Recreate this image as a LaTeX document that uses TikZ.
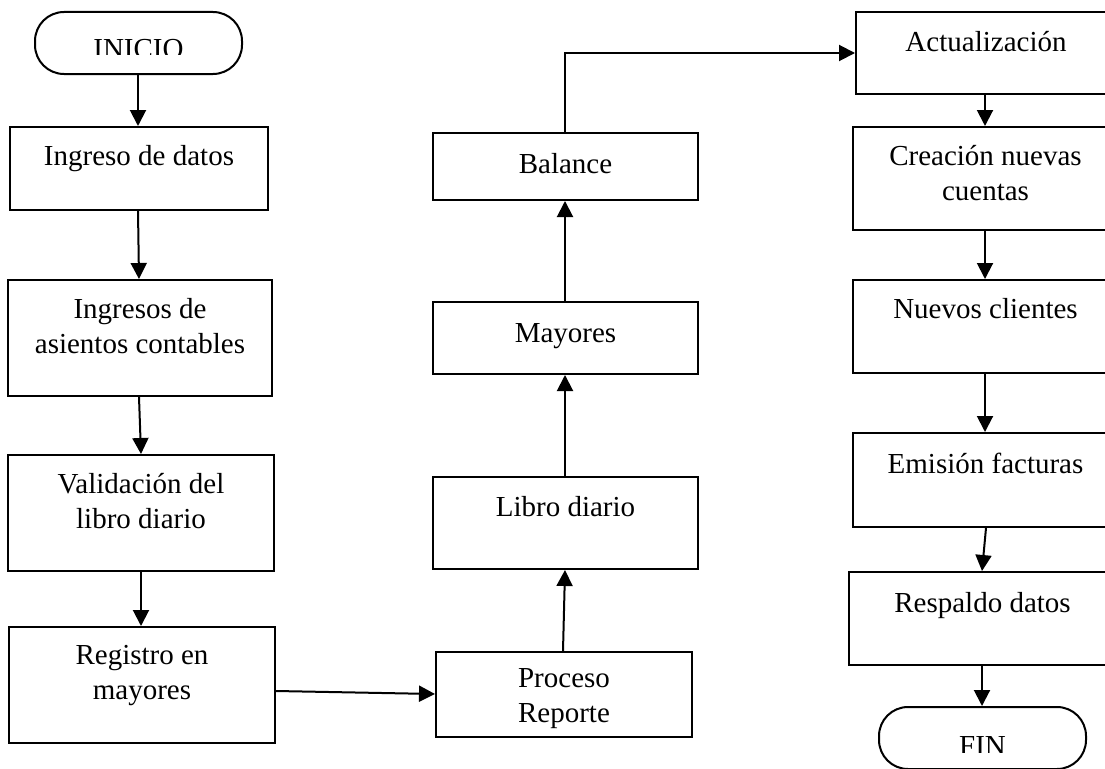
\documentclass[tikz,border=0pt]{standalone}
\usepackage{fontspec}
\setmainfont{Liberation Serif}
\usetikzlibrary{arrows.meta,calc}
\tikzset{
  box/.style={draw, line width=2pt, inner sep=0pt, rectangle},
  term/.style={draw, line width=2pt, inner sep=0pt, rectangle, rounded corners=29pt},
  txt/.style={inner sep=0pt, align=center, anchor=base, font=\fontsize{29}{35}\selectfont},
  arr/.style={line width=2pt, -{Triangle[length=16pt,width=16pt]}}
}
\begin{document}
\begin{tikzpicture}[x=1pt,y=-1pt]
\useasboundingbox (0,0) rectangle (1105,768);
\clip (0,0) rectangle (1105,768);
% boxes
\node[term, minimum width=207pt, minimum height=62pt] (ini) at (138.5,43) {};
\node[box, minimum width=258pt, minimum height=83pt] (ing) at (139,168.5) {};
\node[box, minimum width=264pt, minimum height=116pt] (asi) at (140,338) {};
\node[box, minimum width=266pt, minimum height=116pt] (val) at (141,513) {};
\node[box, minimum width=266pt, minimum height=116pt] (reg) at (142,685) {};
\node[box, minimum width=256pt, minimum height=85pt] (pro) at (564,694.5) {};
\node[box, minimum width=265pt, minimum height=92pt] (lib) at (565.5,523) {};
\node[box, minimum width=265pt, minimum height=72pt] (may) at (565.5,338) {};
\node[box, minimum width=265pt, minimum height=67pt] (bal) at (565.5,166.5) {};
\node[box, minimum width=260pt, minimum height=82pt] (act) at (986,53) {};
\node[box, minimum width=265pt, minimum height=103pt] (cre) at (985.5,178.5) {};
\node[box, minimum width=265pt, minimum height=93pt] (nue) at (985.5,326.5) {};
\node[box, minimum width=265pt, minimum height=94pt] (emi) at (985.5,480) {};
\node[box, minimum width=267pt, minimum height=93pt] (res) at (982.5,618.5) {};
\node[term, minimum width=207pt, minimum height=62pt] (fin) at (982.5,738) {};
% texts
\begin{scope}
\clip (0,0) rectangle (1105,55);
\node[txt] (tini) at (138.5,59) {INICIO};
\end{scope}
\begin{scope}
\clip (0,0) rectangle (1105,752);
\node[txt] (tfin) at (982.5,755) {FIN};
\end{scope}
\node[txt] (ting) at (139,165) {Ingreso de datos};
\node[txt] (tasi) at (140,353) {Ingresos de\\asientos contables};
\node[txt] (tval) at (141,528) {Validación del\\libro diario};
\node[txt] (treg) at (142,699) {Registro en\\mayores};
\node[txt] (tpro) at (564,722) {Proceso\\Reporte};
\node[txt] (tlib) at (565.5,516) {Libro diario};
\node[txt] (tmay) at (565.5,342) {Mayores};
\node[txt] (tbal) at (565.5,173) {Balance};
\node[txt] (tact) at (986,52) {Actualización};
\node[txt] (tcre) at (985.5,200) {Creación nuevas\\cuentas};
\node[txt] (tnue) at (985.5,318) {Nuevos clientes};
\node[txt] (temi) at (985.5,473) {Emisión facturas};
\node[txt] (tres) at (982.5,612) {Respaldo datos};
% connectors
\draw[arr] ($(ini.south west)+(104,0)$) -- ($(ing.north west)+(129,0)$);
\draw[arr] ($(ing.south west)+(129,0)$) -- ($(asi.north west)+(132,0)$);
\draw[arr] ($(asi.south west)+(132,0)$) -- ($(val.north west)+(134,0)$);
\draw[arr] ($(val.south west)+(134,0)$) -- ($(reg.north west)+(133,0)$);
\draw[arr] ($(reg.east)+(0,6)$) -- ($(pro.west)+(0,-0.5)$);
\draw[arr] ($(pro.north west)+(128,0)$) -- ($(lib.south west)+(133,0)$);
\draw[arr] ($(lib.north west)+(133,0)$) -- ($(may.south west)+(133,0)$);
\draw[arr] ($(may.north west)+(133,0)$) -- ($(bal.south west)+(133,0)$);
\draw[arr] ($(bal.north west)+(133,0)$) |- (act.west);
\draw[arr] ($(act.south west)+(130,0)$) -- ($(cre.north west)+(133,0)$);
\draw[arr] ($(cre.south west)+(133,0)$) -- ($(nue.north west)+(133,0)$);
\draw[arr] ($(nue.south west)+(133,0)$) -- ($(emi.north west)+(133,0)$);
\draw[arr] ($(emi.south west)+(134,0)$) -- ($(res.north west)+(134,0)$);
\draw[arr] ($(res.south west)+(134,0)$) -- ($(fin.north west)+(104,0)$);
\end{tikzpicture}
\end{document}
